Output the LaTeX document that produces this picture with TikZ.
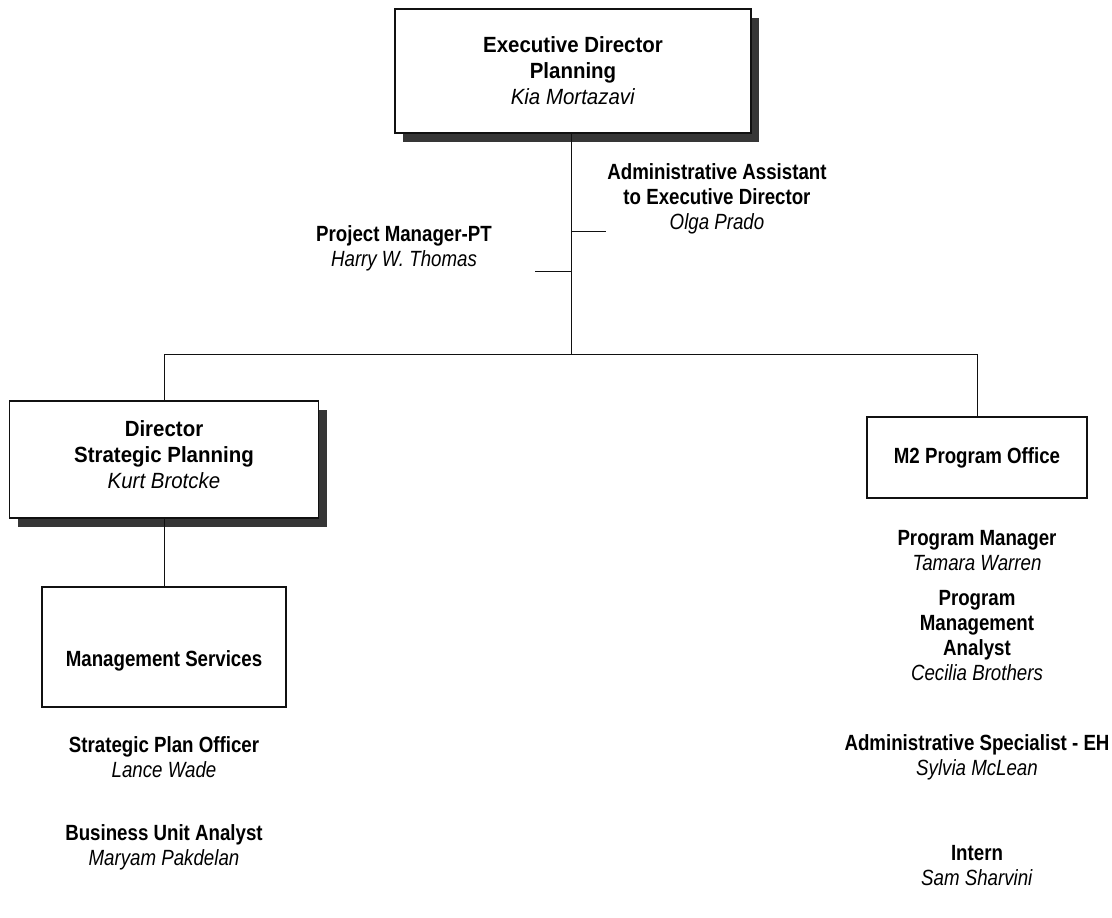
\documentclass[tikz,border=0pt]{standalone}
\usepackage{fontspec}
\setmainfont{Liberation Sans}[FakeStretch=0.85]
\newfontfamily\cardfont{Liberation Sans}[FakeStretch=0.93]
\usepackage{tikz}
\usetikzlibrary{positioning,shadows}
\definecolor{ink}{HTML}{111111}
\definecolor{shade}{HTML}{363636}
\tikzset{
  headcard/.style={
    draw=ink, fill=white, line width=1.3pt, rectangle,
    align=center, inner sep=0pt,
    drop shadow={shadow xshift=8pt, shadow yshift=-9pt, fill=shade, opacity=1}
  },
  plaincard/.style={
    draw=ink, fill=white, line width=1.1pt, rectangle,
    align=center, inner sep=0pt
  },
  headtext/.style={align=center, inner sep=0pt, font=\cardfont\fontsize{22pt}{26pt}\selectfont},
  staffnote/.style={align=center, inner sep=0pt},
  wire/.style={draw=ink, line width=0.9pt}
}

\begin{document}
\begin{tikzpicture}[x=1pt,y=-1pt,font=\fontsize{22pt}{25pt}\selectfont]
  \useasboundingbox (0,0) rectangle (1112,918);

  % boxes
  \node[headcard,minimum width=356pt,minimum height=124pt] (exec) at (573,71) {};
  \node[headtext] (exectext) at (573,71)
    {\textbf{Executive Director}\\\textbf{Planning}\\\textit{Kia Mortazavi}};
  \node[headcard,minimum width=309pt,minimum height=117pt] (dsp) at (164,459.5) {};
  \node[headtext] (dsptext) at (164,455)
    {\textbf{Director}\\\textbf{Strategic Planning}\\\textit{Kurt Brotcke}};
  \node[plaincard,minimum width=220pt,minimum height=81pt] (m2) at (977,457.5)
    {\textbf{M2 Program Office}};
  \node[plaincard,minimum width=244pt,minimum height=120pt] (ms) at (164,647) {};
  \node[staffnote] (mstitle) at (164,661) {\textbf{Management Services}};

  % staff attached to the executive director
  \node[staffnote] (admin) at (717,199)
    {\textbf{Administrative Assistant}\\\textbf{to Executive Director}\\\textit{Olga Prado}};
  \node[staffnote] (pmpt) at (404,248.5)
    {\textbf{Project Manager-PT}\\\textit{Harry W. Thomas}};

  % staff lists under each unit
  \node[staffnote] (spo) at (164,757.5) {\textbf{Strategic Plan Officer}\\\textit{Lance Wade}};
  \node[staffnote] (bua) at (164,847) {\textbf{Business Unit Analyst}\\\textit{Maryam Pakdelan}};
  \node[staffnote] (pm) at (977,550.5) {\textbf{Program Manager}\\\textit{Tamara Warren}};
  \node[staffnote] (pma) at (977,635.5)
    {\textbf{Program}\\\textbf{Management}\\\textbf{Analyst}\\\textit{Cecilia Brothers}};
  \node[staffnote] (ase) at (977,757) {\textbf{Administrative Specialist - EH}\\\textit{Sylvia McLean}};
  \node[staffnote] (intern) at (977,865.5) {\textbf{Intern}\\\textit{Sam Sharvini}};

  % connectors
  \coordinate (bus) at (571,354);
  \coordinate (aa) at (606,231);
  \coordinate (pp) at (535,271);
  \draw[wire] (exec.south -| bus) -- (bus);
  \draw[wire] (aa -| bus) -- (aa);
  \draw[wire] (pp -| bus) -- (pp);
  \draw[wire] (bus) -| (dsp.north);
  \draw[wire] (bus) -| (m2.north);
  \draw[wire] (dsp.south) -- (ms.north);
\end{tikzpicture}
\end{document}
